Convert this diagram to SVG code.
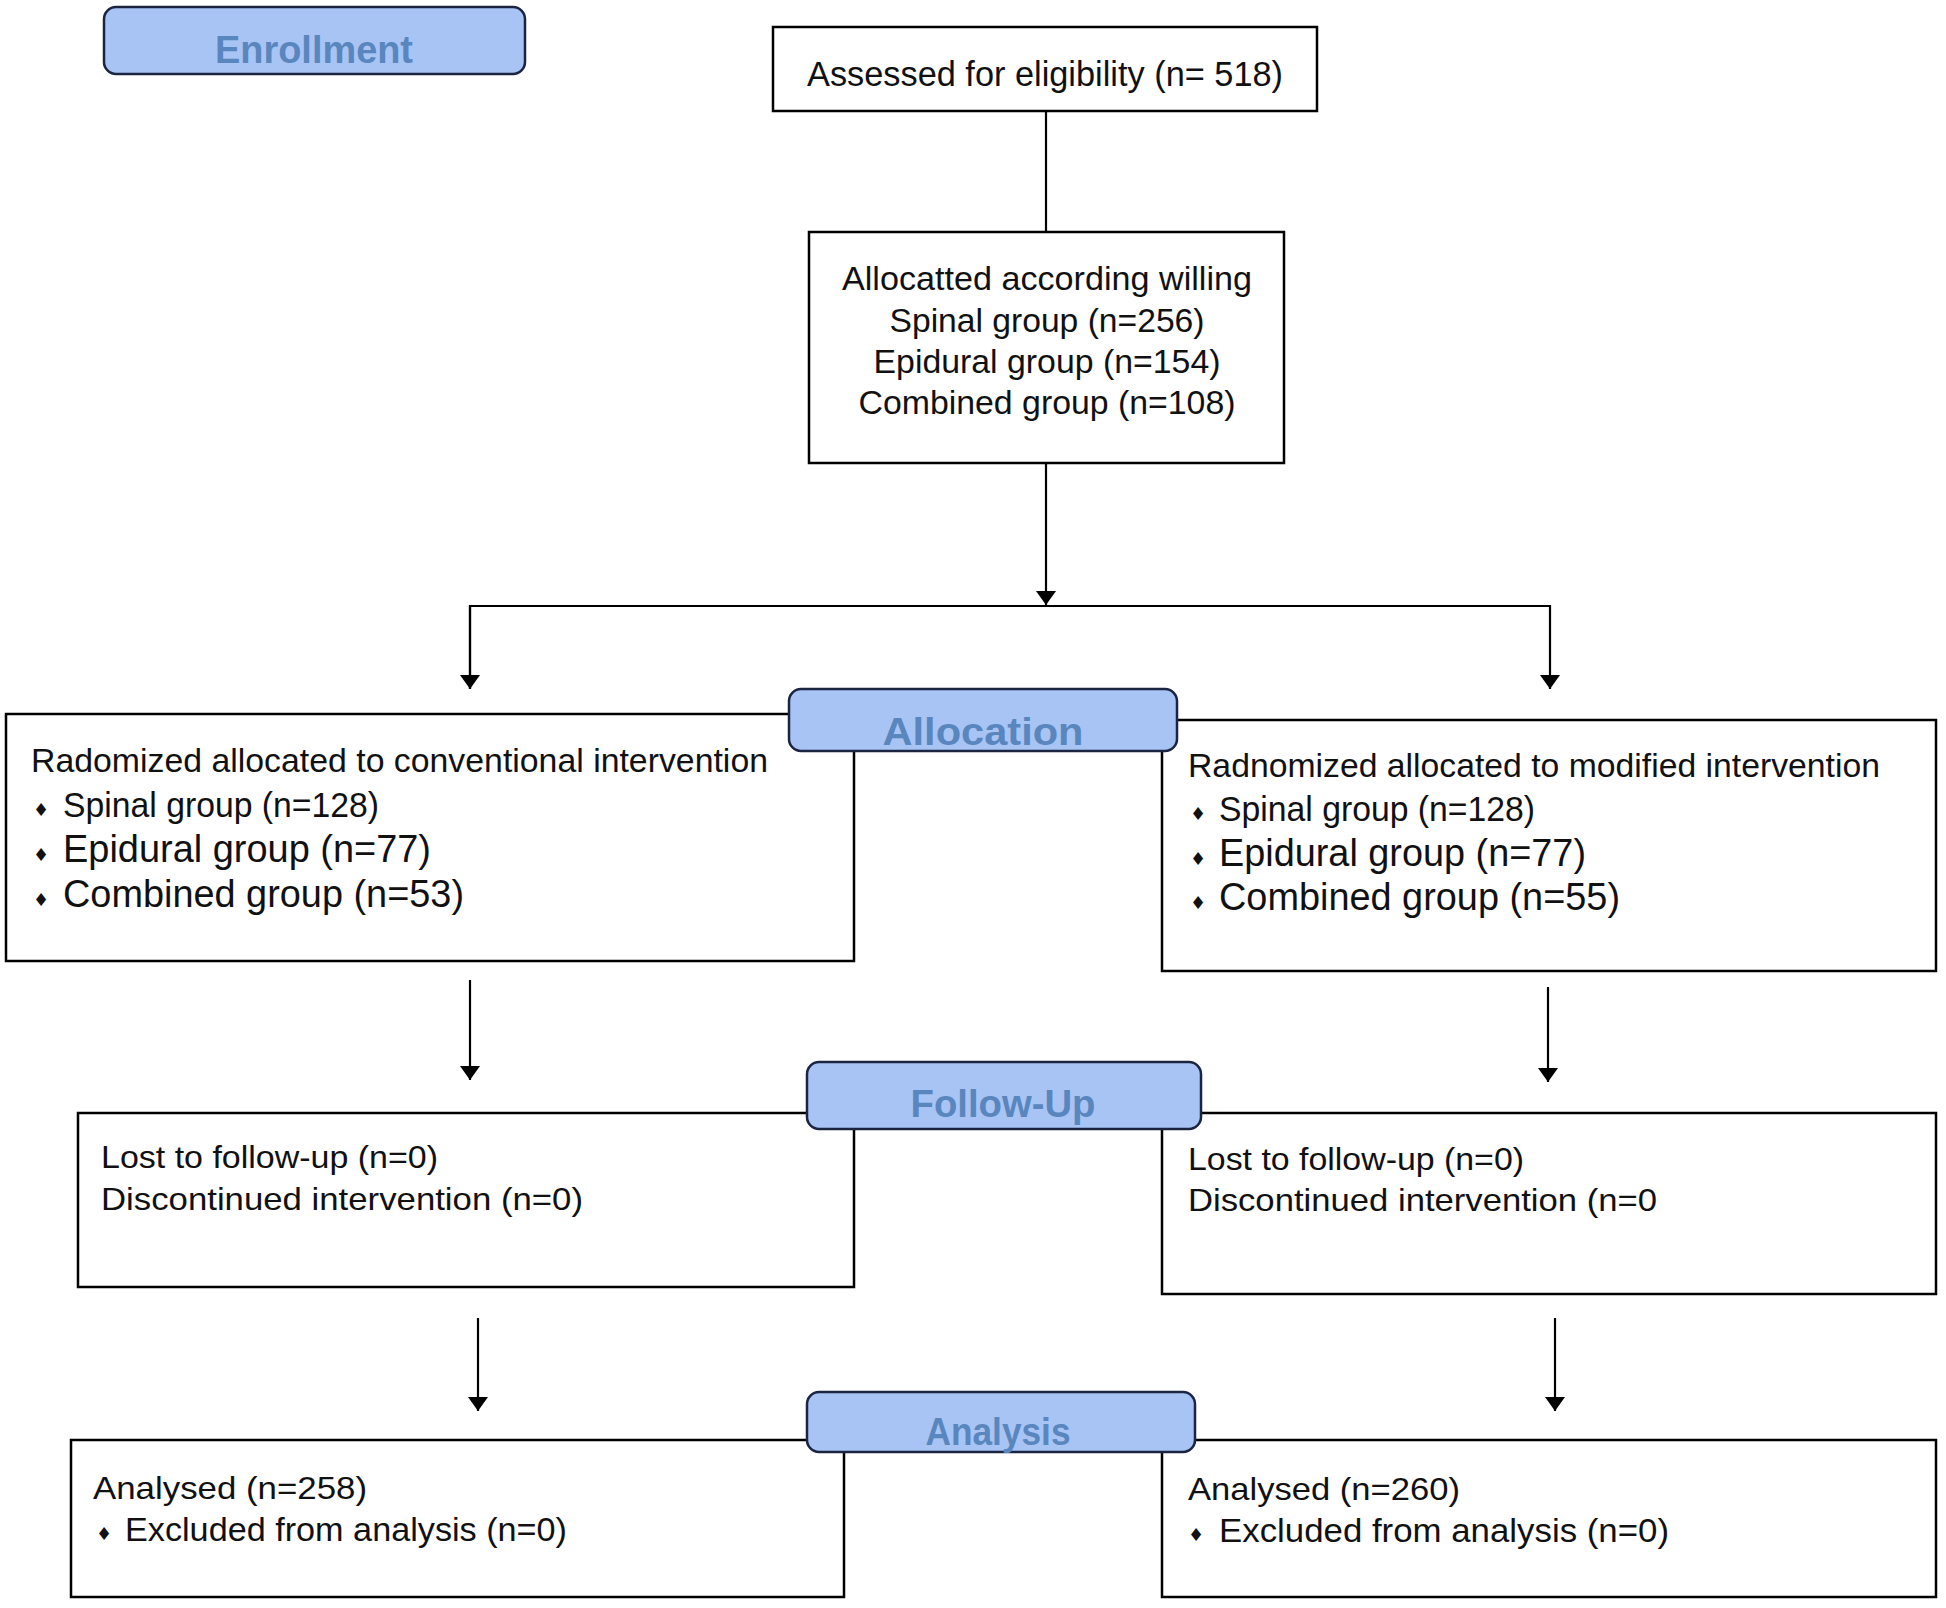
<svg xmlns="http://www.w3.org/2000/svg" width="1946" height="1608" viewBox="0 0 1946 1608">
<defs>
<marker id="ah" viewBox="0 0 14 20" refX="14" refY="10" markerWidth="14" markerHeight="20" markerUnits="userSpaceOnUse" orient="auto">
<path d="M0,0 L14,10 L0,20 Z" fill="#000"/>
</marker>
<style>
.box{fill:#fff;stroke:#000;stroke-width:2.5}
.lab{fill:#A7C4F5;stroke:#1B2440;stroke-width:2.5}
.lt{font-family:"Liberation Sans",Arial,sans-serif;font-weight:bold;font-size:38px;fill:#5A86BE;text-anchor:middle}
.t{font-family:"Liberation Sans",Arial,sans-serif;fill:#111}
.c{text-anchor:middle}
.b{font-family:"DejaVu Sans",sans-serif;font-size:18px;fill:#111;text-anchor:middle}
.ln{stroke:#000;stroke-width:2.2;fill:none}
</style>
</defs>
<rect width="1946" height="1608" fill="#fff"/>

<g id="connectors">
<line class="ln" x1="1046" y1="111" x2="1046" y2="232"/>
<line class="ln" x1="1046" y1="463" x2="1046" y2="605" marker-end="url(#ah)"/>
<polyline class="ln" points="470,689 470,606 1550,606 1550,689" marker-end="url(#ah)"/>
<line class="ln" x1="470" y1="606" x2="470" y2="689" marker-end="url(#ah)"/>
<line class="ln" x1="470" y1="980" x2="470" y2="1080" marker-end="url(#ah)"/>
<line class="ln" x1="1548" y1="987" x2="1548" y2="1082" marker-end="url(#ah)"/>
<line class="ln" x1="478" y1="1318" x2="478" y2="1411" marker-end="url(#ah)"/>
<line class="ln" x1="1555" y1="1318" x2="1555" y2="1411" marker-end="url(#ah)"/>
</g>

<g id="assessed">
<rect class="box" x="773" y="27" width="544" height="84"/>
<text class="t c" x="1045" y="86" font-size="35" textLength="476" lengthAdjust="spacingAndGlyphs">Assessed for eligibility (n= 518)</text>
</g>

<g id="allocated">
<rect class="box" x="809" y="232" width="475" height="231"/>
<text class="t c" x="1047" y="290" font-size="34" textLength="410" lengthAdjust="spacingAndGlyphs">Allocatted according willing</text>
<text class="t c" x="1047" y="332" font-size="34" textLength="315" lengthAdjust="spacingAndGlyphs">Spinal group (n=256)</text>
<text class="t c" x="1047" y="373" font-size="34" textLength="347" lengthAdjust="spacingAndGlyphs">Epidural group (n=154)</text>
<text class="t c" x="1047" y="414" font-size="34" textLength="377" lengthAdjust="spacingAndGlyphs">Combined group (n=108)</text>
</g>

<g id="conventional">
<rect class="box" x="6" y="714" width="848" height="247"/>
<text class="t" x="31" y="772" font-size="33" textLength="737" lengthAdjust="spacingAndGlyphs">Radomized allocated to conventional intervention</text>
<text class="b" x="41" y="816">♦</text>
<text class="t" x="63" y="817" font-size="35" textLength="316" lengthAdjust="spacingAndGlyphs">Spinal group (n=128)</text>
<text class="b" x="41" y="861">♦</text>
<text class="t" x="63" y="862" font-size="38" textLength="368" lengthAdjust="spacingAndGlyphs">Epidural group (n=77)</text>
<text class="b" x="41" y="906">♦</text>
<text class="t" x="63" y="907" font-size="38" textLength="401" lengthAdjust="spacingAndGlyphs">Combined group (n=53)</text>
</g>

<g id="modified">
<rect class="box" x="1162" y="720" width="774" height="251"/>
<text class="t" x="1188" y="777" font-size="33" textLength="692" lengthAdjust="spacingAndGlyphs">Radnomized allocated to modified intervention</text>
<text class="b" x="1198" y="820">♦</text>
<text class="t" x="1219" y="821" font-size="35" textLength="316" lengthAdjust="spacingAndGlyphs">Spinal group (n=128)</text>
<text class="b" x="1198" y="865">♦</text>
<text class="t" x="1219" y="866" font-size="38" textLength="367" lengthAdjust="spacingAndGlyphs">Epidural group (n=77)</text>
<text class="b" x="1198" y="909">♦</text>
<text class="t" x="1219" y="910" font-size="38" textLength="401" lengthAdjust="spacingAndGlyphs">Combined group (n=55)</text>
</g>

<g id="followup-left">
<rect class="box" x="78" y="1113" width="776" height="174"/>
<text class="t" x="101" y="1168" font-size="32" textLength="337" lengthAdjust="spacingAndGlyphs">Lost to follow-up (n=0)</text>
<text class="t" x="101" y="1210" font-size="32" textLength="482" lengthAdjust="spacingAndGlyphs">Discontinued intervention (n=0)</text>
</g>

<g id="followup-right">
<rect class="box" x="1162" y="1113" width="774" height="181"/>
<text class="t" x="1188" y="1170" font-size="32" textLength="336" lengthAdjust="spacingAndGlyphs">Lost to follow-up (n=0)</text>
<text class="t" x="1188" y="1211" font-size="32" textLength="469" lengthAdjust="spacingAndGlyphs">Discontinued intervention (n=0</text>
</g>

<g id="analysis-left">
<rect class="box" x="71" y="1440" width="773" height="157"/>
<text class="t" x="93" y="1499" font-size="32" textLength="274" lengthAdjust="spacingAndGlyphs">Analysed (n=258)</text>
<text class="b" x="104" y="1540">♦</text>
<text class="t" x="125" y="1541" font-size="34" textLength="442" lengthAdjust="spacingAndGlyphs">Excluded from analysis (n=0)</text>
</g>

<g id="analysis-right">
<rect class="box" x="1162" y="1440" width="774" height="157"/>
<text class="t" x="1188" y="1500" font-size="32" textLength="272" lengthAdjust="spacingAndGlyphs">Analysed (n=260)</text>
<text class="b" x="1196" y="1541">♦</text>
<text class="t" x="1219" y="1542" font-size="34" textLength="450" lengthAdjust="spacingAndGlyphs">Excluded from analysis (n=0)</text>
</g>

<g id="label-enrollment">
<rect class="lab" x="104" y="7" width="421" height="67" rx="12"/>
<text class="lt" x="314" y="63" textLength="198" lengthAdjust="spacingAndGlyphs">Enrollment</text>
</g>

<g id="label-allocation">
<rect class="lab" x="789" y="689" width="388" height="62" rx="12"/>
<text class="lt" x="983" y="745" textLength="201" lengthAdjust="spacingAndGlyphs">Allocation</text>
</g>

<g id="label-followup">
<rect class="lab" x="807" y="1062" width="394" height="67" rx="12"/>
<text class="lt" x="1003" y="1117" textLength="185" lengthAdjust="spacingAndGlyphs">Follow-Up</text>
</g>

<g id="label-analysis">
<rect class="lab" x="807" y="1392" width="388" height="60" rx="12"/>
<text class="lt" x="998" y="1445" textLength="145" lengthAdjust="spacingAndGlyphs">Analysis</text>
</g>
</svg>
